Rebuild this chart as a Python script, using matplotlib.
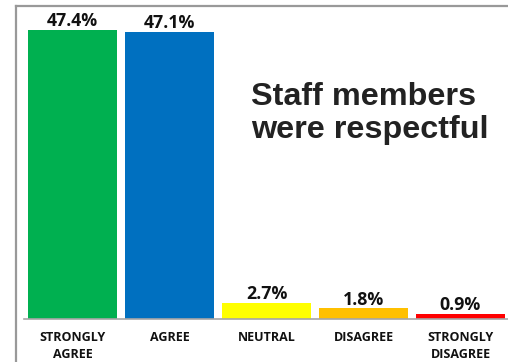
import matplotlib
matplotlib.use("Agg")
import matplotlib.pyplot as plt
from matplotlib.lines import Line2D

# Survey answers
categories = ["STRONGLY\nAGREE", "AGREE", "NEUTRAL", "DISAGREE", "STRONGLY\nDISAGREE"]
percent = [47.4, 47.1, 2.7, 1.8, 0.9]
colors = ["#00b050", "#0070c0", "#ffff00", "#ffc000", "#ff0000"]

fig = plt.figure(figsize=(5.08, 3.62), dpi=100)
ax = fig.add_axes([24 / 508, 43 / 362, 485 / 508, 313 / 362])

x = range(len(percent))
bars = ax.bar(x, percent, width=0.92, color=colors)

for b, v in zip(bars, percent):
    ax.annotate(f"{v}%", (b.get_x() + b.get_width() / 2, v),
                xytext=(0, 2.5), textcoords="offset points",
                ha="center", va="baseline", fontsize=12.8,
                fontweight="bold", family="Open Sans", color="#111111")

ax.set_xlim(-0.5, 4.5)
ax.set_ylim(0, 51.3)
ax.set_yticks([])
ax.set_xticks(list(x))
ax.set_xticklabels(categories, fontsize=9, fontweight="bold",
                   family="Open Sans", color="#111111", linespacing=1.4)
ax.tick_params(axis="x", length=0, pad=8.5)

for s in ["top", "right", "left"]:
    ax.spines[s].set_visible(False)
ax.spines["bottom"].set_color("#a6a6a6")
ax.spines["bottom"].set_linewidth(1.2)

ax.text(0.468, 0.655, "Staff members\nwere respectful",
        transform=ax.transAxes, fontsize=23.3, fontweight="bold",
        family="Liberation Sans", color="#222222", linespacing=1.13,
        ha="left", va="center")

# outer frame (top and left edges)
frame_c = "#999999"
fig.add_artist(Line2D([15.5 / 508, 1.0], [1 - 6 / 362, 1 - 6 / 362],
                      transform=fig.transFigure, color=frame_c, lw=1.6))
fig.add_artist(Line2D([15.5 / 508, 15.5 / 508], [0, 1 - 6 / 362],
                      transform=fig.transFigure, color=frame_c, lw=1.6))

fig.savefig("out.png", dpi=100)
